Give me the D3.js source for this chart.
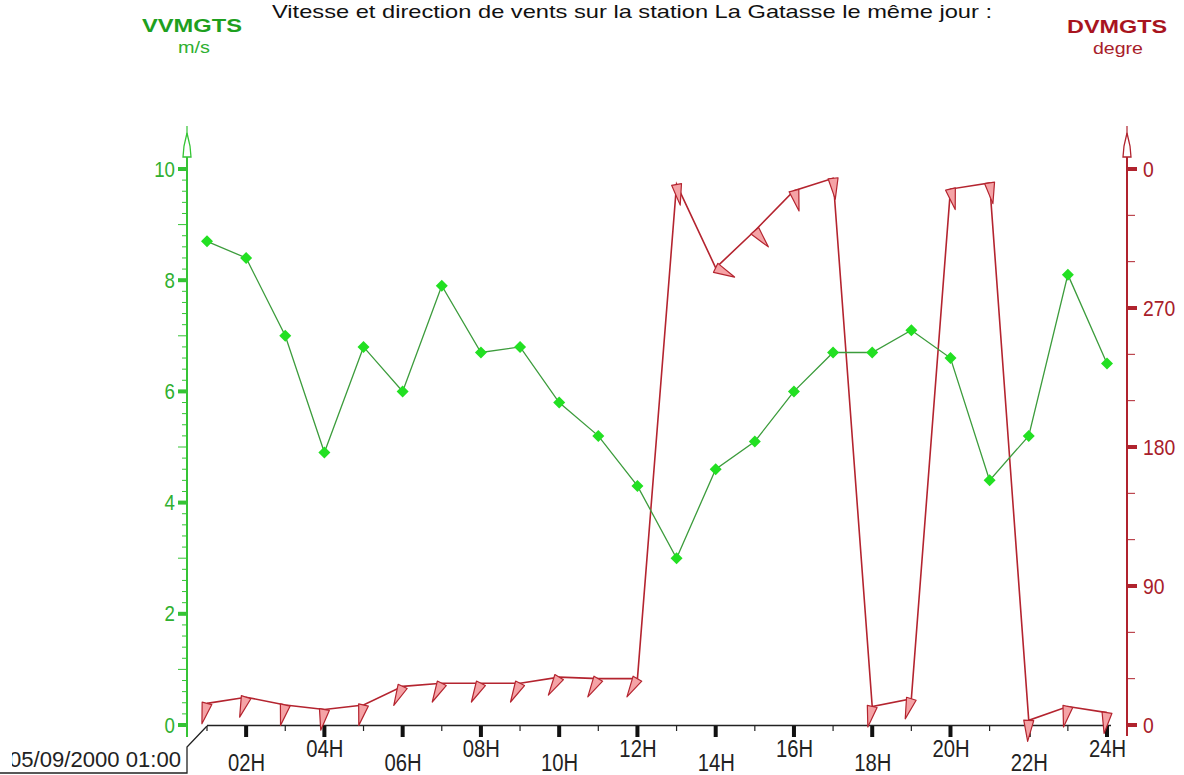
<!DOCTYPE html>
<html>
<head>
<meta charset="utf-8">
<script src="https://cdn.jsdelivr.net/npm/d3@7/dist/d3.min.js"></script>
<style>
  html, body { margin: 0; padding: 0; background: #fff; }
  svg { display: block; }
  text { font-family: "Liberation Sans", Arial, sans-serif; }
</style>
</head>
<body>
<svg id="chart" width="1184" height="775"></svg>
<script>
// Hourly records, 05/09/2000, station La Gatasse
const hours = [1, 2, 3, 4, 5, 6, 7, 8, 9, 10, 11, 12, 13, 14, 15, 16, 17, 18, 19, 20, 21, 22, 23, 24];
// VVMGTS : wind speed (m/s)
const speed = [8.7, 8.4, 7.0, 4.9, 6.8, 6.0, 7.9, 6.7, 6.8, 5.8, 5.2, 4.3, 3.0, 4.6, 5.1, 6.0, 6.7, 6.7, 7.1, 6.6, 4.4, 5.2, 8.1, 6.5];
// DVMGTS : wind direction (degrees)
const direction = [14, 18, 13, 10, 13, 25, 27, 27, 27, 31, 30, 30, 350, 296, 320, 346, 354, 12, 17, 347, 351, 3, 12, 8];

const hourTicks = [2, 4, 6, 8, 10, 12, 14, 16, 18, 20, 22, 24];
const hourLabels = ["02H", "04H", "06H", "08H", "10H", "12H", "14H", "16H", "18H", "20H", "22H", "24H"];
const speedTicks = [0, 2, 4, 6, 8, 10];
const dirTicks = [0, 90, 180, 270, 360];
const dirTickLabels = ["0", "90", "180", "270", "0"];

const title = "Vitesse et direction de vents sur la station La Gatasse le même jour :";
const startStamp = "05/09/2000 01:00";

const GREEN_AXIS = "#35c435";
const GREEN_TEXT = "#30b030";
const GREEN_LINE = "#3c9c3c";
const GREEN_MARK = "#22e022";
const RED_AXIS = "#b0232e";
const RED_TEXT = "#a8202a";
const RED_LINE = "#b4242f";
const RED_FILL = "#f5a3a6";

const svg = d3.select("#chart");
svg.append("rect").attr("width", 1184).attr("height", 775).attr("fill", "#fff");

// narrow the glyphs of a text selection to a fraction of their natural width
function condense(sel, f) {
  sel.each(function () {
    const w = this.getComputedTextLength();
    d3.select(this).attr("textLength", w * f).attr("lengthAdjust", "spacingAndGlyphs");
  });
}

const xLeft = 187, xRight = 1127, yBase = 725, yTop = 169;
const x = d3.scaleLinear().domain([1, 24]).range([207, 1107]);
const yL = d3.scaleLinear().domain([0, 10]).range([yBase, yTop]);
const yR = d3.scaleLinear().domain([0, 360]).range([yBase, yTop]);

// ---- title and series headers
svg.append("text").attr("x", 632).attr("y", 18).attr("text-anchor", "middle")
  .attr("font-size", 19).attr("textLength", 720).attr("lengthAdjust", "spacingAndGlyphs")
  .attr("fill", "#111").text(title);

svg.append("text").attr("x", 192).attr("y", 32).attr("text-anchor", "middle")
  .attr("font-size", 19).attr("font-weight", "bold").attr("fill", "#1ea01e")
  .attr("textLength", 100).attr("lengthAdjust", "spacingAndGlyphs").text("VVMGTS");
svg.append("text").attr("x", 194).attr("y", 53).attr("text-anchor", "middle")
  .attr("font-size", 17).attr("fill", GREEN_TEXT)
  .attr("textLength", 32).attr("lengthAdjust", "spacingAndGlyphs").text("m/s");

svg.append("text").attr("x", 1117).attr("y", 33).attr("text-anchor", "middle")
  .attr("font-size", 19).attr("font-weight", "bold").attr("fill", "#a8141e")
  .attr("textLength", 100).attr("lengthAdjust", "spacingAndGlyphs").text("DVMGTS");
svg.append("text").attr("x", 1118).attr("y", 54).attr("text-anchor", "middle")
  .attr("font-size", 17).attr("fill", RED_TEXT)
  .attr("textLength", 50).attr("lengthAdjust", "spacingAndGlyphs").text("degre");

// ---- axis arrow heads
function axisArrow(cx, color) {
  svg.append("line").attr("x1", cx).attr("x2", cx).attr("y1", 126).attr("y2", 146)
    .attr("stroke", color).attr("stroke-width", 1.2);
  svg.append("path")
    .attr("d", `M${cx},133 L${cx + 3},146 L${cx + 4},157 L${cx - 4},157 L${cx - 3},146 Z`)
    .attr("fill", "#fff").attr("stroke", color).attr("stroke-width", 1.3);
}

// ---- left axis (speed)
const gL = svg.append("g").attr("transform", `translate(${xLeft},0)`)
  .call(d3.axisLeft(yL).tickValues(speedTicks).tickSize(0).tickPadding(12).tickFormat(d3.format("d")));
gL.select(".domain").remove();
gL.selectAll("text").attr("font-size", 22).attr("fill", GREEN_TEXT)
  .attr("font-family", "Liberation Sans, Arial, sans-serif").call(condense, 0.85);
const minorL = d3.range(0, 10.001, 0.2).filter(v => Math.abs(v - Math.round(v)) > 0.01 || Math.round(v) % 2 === 1);
gL.selectAll(".minor").data(minorL).join("line")
  .attr("x1", v => Math.abs(v - Math.round(v)) < 0.01 ? -9 : -5).attr("x2", 0)
  .attr("y1", v => yL(v)).attr("y2", v => yL(v))
  .attr("stroke", GREEN_AXIS).attr("stroke-width", 1);
gL.selectAll(".major").data(speedTicks).join("rect")
  .attr("x", -9).attr("y", v => yL(v) - 2).attr("width", 10).attr("height", 4).attr("fill", GREEN_AXIS);
gL.append("line").attr("x1", 0).attr("x2", 0).attr("y1", 157).attr("y2", 737)
  .attr("stroke", GREEN_AXIS).attr("stroke-width", 2);
axisArrow(xLeft, GREEN_AXIS);

// ---- right axis (direction)
const gR = svg.append("g").attr("transform", `translate(${xRight},0)`)
  .call(d3.axisRight(yR).tickValues(dirTicks).tickSize(0).tickPadding(16).tickFormat((d, i) => dirTickLabels[i]));
gR.select(".domain").remove();
gR.selectAll("text").attr("font-size", 22).attr("fill", RED_TEXT)
  .attr("font-family", "Liberation Sans, Arial, sans-serif").call(condense, 0.88);
const minorR = d3.range(0, 360.1, 30).filter(v => v % 90 !== 0);
gR.selectAll(".minor").data(minorR).join("line")
  .attr("x1", 0).attr("x2", 8).attr("y1", v => yR(v)).attr("y2", v => yR(v))
  .attr("stroke", RED_AXIS).attr("stroke-width", 1);
gR.selectAll(".major").data(dirTicks).join("rect")
  .attr("x", 0).attr("y", v => yR(v) - 2).attr("width", 10).attr("height", 4).attr("fill", RED_AXIS);
gR.append("line").attr("x1", 0).attr("x2", 0).attr("y1", 157).attr("y2", 736)
  .attr("stroke", RED_AXIS).attr("stroke-width", 2);
axisArrow(xRight, RED_AXIS);

// ---- time axis
const gX = svg.append("g").attr("transform", `translate(0,${yBase})`)
  .call(d3.axisBottom(x).tickValues(hourTicks).tickSize(0).tickFormat((d, i) => hourLabels[i]));
gX.select(".domain").remove();
gX.selectAll("text").attr("font-size", 23).attr("fill", "#222").attr("dy", 0)
  .attr("font-family", "Liberation Sans, Arial, sans-serif")
  .attr("y", d => (d % 4 === 2 ? 46 : 32)).call(condense, 0.88);
gX.append("line").attr("x1", x(1)).attr("x2", x(24) + 4).attr("y1", 0.5).attr("y2", 0.5)
  .attr("stroke", "#222").attr("stroke-width", 1.6);
gX.selectAll(".major").data(hourTicks).join("rect")
  .attr("x", d => x(d) - 2).attr("y", 1).attr("width", 4).attr("height", 11).attr("fill", "#111");
gX.selectAll(".minor").data(hours.filter(h => h % 2 === 1)).join("line")
  .attr("x1", d => x(d)).attr("x2", d => x(d)).attr("y1", 1).attr("y2", 6)
  .attr("stroke", "#222").attr("stroke-width", 1.2);

// start-time stamp box
svg.append("defs").append("clipPath").attr("id", "stampClip")
  .append("rect").attr("x", 12).attr("y", 730).attr("width", 180).attr("height", 45);
svg.append("text").attr("x", 181).attr("y", 767).attr("text-anchor", "end")
  .attr("font-size", 22).attr("textLength", 172).attr("lengthAdjust", "spacingAndGlyphs")
  .attr("fill", "#222").attr("clip-path", "url(#stampClip)").text(startStamp);
svg.append("path").attr("d", `M0,773 L187,773 L187,747 L${x(1)},${yBase + 1}`)
  .attr("fill", "none").attr("stroke", "#222").attr("stroke-width", 1.3);

// ---- direction series
svg.append("path").datum(hours)
  .attr("d", d3.line().x(h => x(h)).y((h, i) => yR(direction[i])))
  .attr("fill", "none").attr("stroke", RED_LINE).attr("stroke-width", 1.6);

// direction arrows: narrow triangle pointing along the wind bearing
const arrowLen = 21, arrowHalf = 5;
svg.append("g").selectAll("path").data(hours).join("path")
  .attr("d", (h, i) => {
    const px = x(h), py = yR(direction[i]);
    const a = direction[i] * Math.PI / 180;
    const vx = -Math.sin(a), vy = Math.cos(a);
    const nx = -vy, ny = vx;
    return `M${px + nx * arrowHalf},${py + ny * arrowHalf} L${px - nx * arrowHalf},${py - ny * arrowHalf} L${px + vx * arrowLen},${py + vy * arrowLen} Z`;
  })
  .attr("fill", RED_FILL).attr("stroke", RED_LINE).attr("stroke-width", 1.2).attr("stroke-linejoin", "round");

// ---- speed series
svg.append("path").datum(hours)
  .attr("d", d3.line().x(h => x(h)).y((h, i) => yL(speed[i])))
  .attr("fill", "none").attr("stroke", GREEN_LINE).attr("stroke-width", 1.3);
svg.append("g").selectAll("path").data(hours).join("path")
  .attr("transform", (h, i) => `translate(${x(h)},${yL(speed[i])})`)
  .attr("d", "M0,-6 L6,0 L0,6 L-6,0 Z")
  .attr("fill", GREEN_MARK);
</script>
</body>
</html>
